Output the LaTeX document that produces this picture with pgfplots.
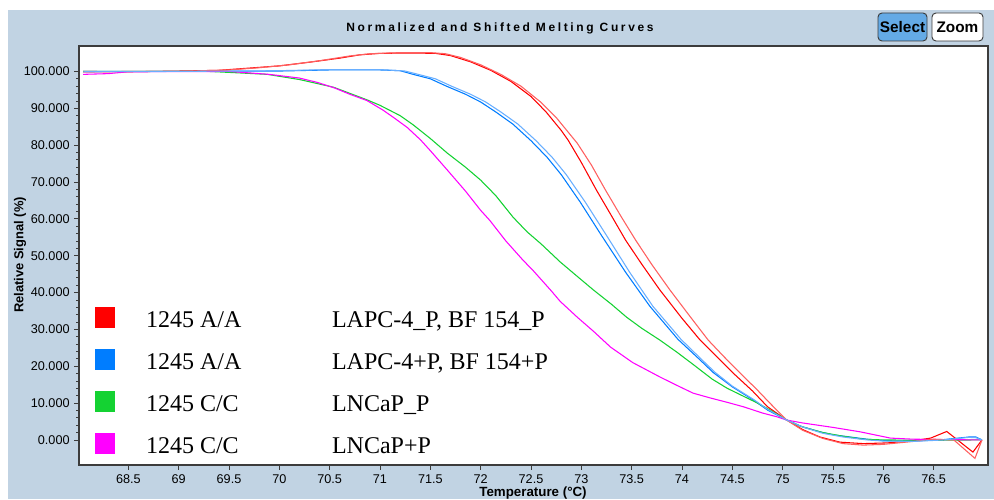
\documentclass[border=0pt]{standalone}
\usepackage{fontspec}
\setmainfont{Liberation Sans}
\newfontfamily\serif{Liberation Serif}
\newfontfamily\titlefont[LetterSpace=22]{Liberation Sans}
\usepackage{pgfplots}
\pgfplotsset{compat=1.18}
\definecolor{bgc}{RGB}{193,211,227}
\definecolor{axc}{RGB}{60,60,60}
\definecolor{redA}{RGB}{255,0,0}
\definecolor{redB}{RGB}{255,95,95}
\definecolor{blueA}{RGB}{0,125,255}
\definecolor{blueB}{RGB}{105,175,255}
\definecolor{grn}{RGB}{20,210,50}
\definecolor{mag}{RGB}{255,0,255}
\definecolor{selc}{RGB}{100,170,230}
\begin{document}
\begin{tikzpicture}
\path[use as bounding box] (0,0) rectangle (745.5pt,374.25pt);
\fill[white] (0,0) rectangle (745.5pt,374.25pt);
\fill[bgc] (6pt,0) rectangle (745.5pt,366.75pt);
\begin{axis}[
  at={(59.25pt,25.5pt)}, anchor=south west,
  scale only axis, width=681.75pt, height=314.25pt,
  xmin=68.01, xmax=77.04, ymin=-6.8, ymax=106.9,
  axis background/.style={fill=white},
  axis line style={axc, line width=1pt},
  xtick={68.5,69,69.5,70,70.5,71,71.5,72,72.5,73,73.5,74,74.5,75,75.5,76,76.5},
  ytick={0,10,20,30,40,50,60,70,80,90,100},
  minor y tick num=4,
  xtick pos=bottom, ytick pos=left,
  tick align=outside,
  major tick length=3.5pt, minor tick length=2pt,
  tick style={axc, line width=0.6pt},
  /pgf/number format/assume math mode=true,
  tick label style={font=\fontsize{9.5}{11}\selectfont},
  yticklabel style={/pgf/number format/.cd, fixed, fixed zerofill, precision=3},
  xticklabel style={/pgf/number format/.cd, fixed},
  every axis plot/.append style={line width=0.8pt, mark=none},
  legend cell align=left,
  legend style={at={(rel axis cs:0.0176,0.377)}, anchor=north west,
    draw=none, fill=none, inner sep=0pt, outer sep=0pt,
    font=\serif\fontsize{18}{18}\selectfont, row sep=12pt,
    nodes={inner sep=0pt, text height=13pt, text depth=4pt},
    /tikz/every odd column/.append style={column sep=23pt}},
  legend image code/.code={\fill[#1] (0pt,-4.5pt) rectangle (14.5pt,10.5pt);},
]
% red A
\addplot[redA] coordinates {
(68.05,100.0)(68.5,99.9)(69.0,100.1)(69.4,100.3)(69.7,100.9)(70.0,101.5)(70.3,102.5)(70.6,103.6)(70.8,104.5)(71.0,104.9)(71.3,105.0)(71.55,104.9)(71.7,104.3)(71.9,102.6)(72.1,100.3)(72.3,97.3)(72.5,93.2)(72.65,89.0)(72.8,84.0)(72.87,81.3)(73.0,75.3)(73.15,67.8)(73.3,60.8)(73.44,54.2)(73.6,47.7)(73.78,40.7)(74.0,33.0)(74.18,27.1)(74.35,22.5)(74.51,18.1)(74.7,13.3)(74.85,9.0)(75.04,5.4)(75.2,2.8)(75.37,0.8)(75.57,-0.6)(75.8,-1.0)(76.04,-0.8)(76.3,-0.2)(76.47,0.5)(76.63,2.3)(76.89,-3.3)(76.98,0.0)};
\addlegendentry{\makebox[139.5pt][l]{1245 A/A}LAPC-4\textunderscore P, BF 154\textunderscore P}
% blue A
\addplot[blueA] coordinates {
(68.05,100.0)(69.0,100.0)(70.0,100.1)(70.5,100.4)(71.0,100.4)(71.2,100.2)(71.33,99.2)(71.5,98.0)(71.66,96.0)(71.85,93.8)(72.0,91.7)(72.15,89.0)(72.32,85.7)(72.5,81.2)(72.66,76.7)(72.8,72.0)(72.99,64.5)(73.2,55.5)(73.44,45.5)(73.68,36.3)(73.96,27.3)(74.18,21.7)(74.31,18.3)(74.5,14.4)(74.71,10.8)(74.85,8.1)(75.04,5.4)(75.17,3.8)(75.37,2.2)(75.5,1.4)(75.84,0.2)(76.0,-0.2)(76.3,-0.3)(76.6,0.1)(76.85,0.8)(76.92,0.8)(76.98,0.0)};
\addlegendentry{\makebox[139.5pt][l]{1245 A/A}LAPC-4+P, BF 154+P}
% green
\addplot[grn] coordinates {
(68.05,100.0)(69.3,100.0)(69.6,99.6)(69.88,99.2)(70.2,97.8)(70.54,95.7)(70.87,92.3)(71.0,90.8)(71.2,88.0)(71.33,85.5)(71.5,81.8)(71.67,77.8)(71.85,74.0)(72.0,70.5)(72.15,66.3)(72.32,60.5)(72.46,56.5)(72.6,53.2)(72.79,48.3)(72.95,44.6)(73.12,40.7)(73.3,36.8)(73.45,33.3)(73.6,30.3)(73.78,27.1)(73.95,23.8)(74.11,20.5)(74.3,16.5)(74.45,14.0)(74.6,12.0)(74.75,10.0)(74.85,8.5)(75.04,5.4)(75.2,3.5)(75.4,2.0)(75.6,1.0)(75.8,0.2)(76.0,0.0)(76.5,-0.1)(76.9,0.0)(76.98,0.0)};
\addlegendentry{\makebox[139.5pt][l]{1245 C/C}LNCaP\textunderscore P}
% magenta
\addplot[mag] coordinates {
(68.05,99.2)(68.3,99.4)(68.5,99.9)(69.5,100.0)(69.9,99.2)(70.2,98.2)(70.38,97.0)(70.55,95.5)(70.7,93.8)(70.87,92.1)(71.03,89.5)(71.15,87.2)(71.27,84.8)(71.4,81.5)(71.5,78.5)(71.67,73.2)(71.85,67.5)(72.0,62.3)(72.09,59.6)(72.25,54.0)(72.42,48.8)(72.52,46.0)(72.7,40.5)(72.79,37.6)(72.96,33.3)(73.12,29.5)(73.29,25.2)(73.51,21.0)(73.78,17.1)(73.95,14.8)(74.11,12.7)(74.28,11.4)(74.45,10.2)(74.61,9.0)(74.8,7.3)(74.94,6.3)(75.04,5.4)(75.2,4.6)(75.5,3.4)(75.77,2.2)(76.07,0.5)(76.3,0.2)(76.6,0.1)(76.98,0.0)};
\addlegendentry{\makebox[139.5pt][l]{1245 C/C}LNCaP+P}
% red B
\addplot[redB, forget plot] coordinates {
(68.05,99.8)(68.5,100.0)(69.0,100.0)(69.5,100.4)(69.8,101.0)(70.1,101.8)(70.4,102.9)(70.7,104.2)(70.9,104.8)(71.2,105.1)(71.5,105.1)(71.65,104.8)(71.8,103.8)(72.0,101.8)(72.2,99.2)(72.4,96.0)(72.6,91.6)(72.75,87.5)(72.9,82.5)(72.96,80.5)(73.1,74.6)(73.24,67.8)(73.4,60.4)(73.54,54.2)(73.7,47.6)(73.88,40.7)(74.08,33.5)(74.26,27.1)(74.42,22.5)(74.58,18.1)(74.75,13.5)(74.88,9.8)(75.04,5.4)(75.2,2.6)(75.4,0.4)(75.6,-1.0)(75.8,-1.4)(76.0,-1.2)(76.3,-0.4)(76.5,0.2)(76.7,0.0)(76.91,-5.0)(76.98,0.0)};
% blue B
\addplot[blueB, forget plot] coordinates {
(68.05,99.9)(69.0,100.0)(70.0,100.2)(70.5,100.5)(71.0,100.5)(71.25,100.1)(71.38,99.2)(71.55,98.0)(71.71,96.0)(71.9,93.8)(72.05,91.7)(72.2,89.0)(72.37,85.7)(72.55,81.2)(72.71,76.7)(72.85,72.0)(73.04,64.5)(73.25,55.5)(73.48,45.5)(73.71,36.3)(73.99,27.3)(74.2,21.7)(74.33,18.3)(74.5,14.6)(74.71,11.0)(74.85,8.3)(75.04,5.4)(75.2,3.5)(75.4,1.8)(75.6,0.8)(75.84,0.0)(76.0,-0.3)(76.3,-0.4)(76.6,0.0)(76.85,0.7)(76.92,0.6)(76.98,0.0)};
\end{axis}
% title, labels, buttons
\node[font=\titlefont\bfseries\fontsize{9}{10}\selectfont] at (375pt,353.25pt) {Normalized and Shifted Melting Curves};
\node[rotate=90, font=\bfseries\fontsize{9.7}{11}\selectfont] at (15pt,183pt) {Relative Signal (\%)};
\node[anchor=north, font=\bfseries\fontsize{10}{12}\selectfont, inner sep=0pt] at (399.75pt,9pt) {Temperature (°C)};
\draw[axc, fill=selc, rounded corners=3pt, line width=0.7pt] (658.5pt,343.5pt) rectangle (695.25pt,364.5pt);
\node[font=\bfseries\fontsize{11.5}{13}\selectfont] at (676.9pt,354pt) {Select};
\draw[axc, fill=white, rounded corners=3pt, line width=0.7pt] (699pt,343.5pt) rectangle (737.25pt,364.5pt);
\node[font=\bfseries\fontsize{11.5}{13}\selectfont] at (718.1pt,354pt) {Zoom};
\end{tikzpicture}
\end{document}
